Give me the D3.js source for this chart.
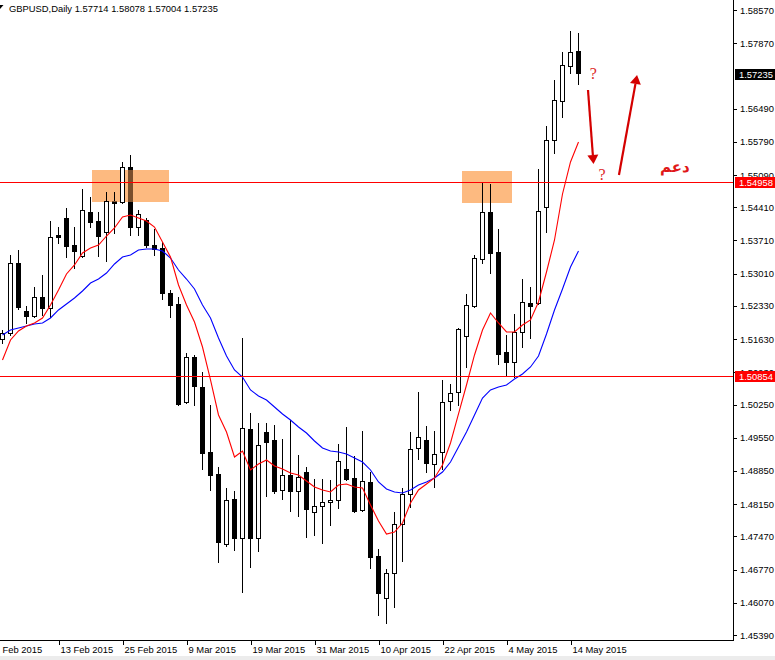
<!DOCTYPE html>
<html><head><meta charset="utf-8">
<script src="https://cdn.jsdelivr.net/npm/d3@7/dist/d3.min.js"></script>
<style>
html,body{margin:0;padding:0;background:#fff;overflow:hidden;}
svg{display:block;}
text{font-family:"Liberation Sans",Arial,sans-serif;}
</style></head><body>
<svg id="c" width="775" height="660"></svg>
<script>
// ---------------- data ----------------
const dates = ["2015-02-04","2015-02-05","2015-02-06","2015-02-09","2015-02-10","2015-02-11","2015-02-12","2015-02-13","2015-02-16","2015-02-17",
"2015-02-18","2015-02-19","2015-02-20","2015-02-23","2015-02-24","2015-02-25","2015-02-26","2015-02-27","2015-03-02","2015-03-03",
"2015-03-04","2015-03-05","2015-03-06","2015-03-09","2015-03-10","2015-03-11","2015-03-12","2015-03-13","2015-03-16","2015-03-17",
"2015-03-18","2015-03-19","2015-03-20","2015-03-23","2015-03-24","2015-03-25","2015-03-26","2015-03-27","2015-03-30","2015-03-31",
"2015-04-01","2015-04-02","2015-04-03","2015-04-06","2015-04-07","2015-04-08","2015-04-09","2015-04-10","2015-04-13","2015-04-14",
"2015-04-15","2015-04-16","2015-04-17","2015-04-20","2015-04-21","2015-04-22","2015-04-23","2015-04-24","2015-04-27","2015-04-28",
"2015-04-29","2015-04-30","2015-05-01","2015-05-04","2015-05-05","2015-05-06","2015-05-07","2015-05-08","2015-05-11","2015-05-12",
"2015-05-13","2015-05-14","2015-05-15"];

const openP = [1.51632,1.51759,1.53235,1.52223,1.52117,1.52518,1.52286,1.53825,1.54184,1.53614,
1.53382,1.54310,1.54121,1.53889,1.54542,1.54521,1.55259,1.53994,1.54142,1.53614,
1.53551,1.52602,1.52370,1.50304,1.51253,1.50620,1.49249,1.48785,1.47309,1.48258,
1.47436,1.49734,1.47436,1.49671,1.49502,1.48448,1.48764,1.48427,1.48827,1.47984,
1.48110,1.48195,1.48237,1.48891,1.48701,1.48026,1.48617,1.47056,1.46170,1.46698,
1.47731,1.48363,1.49334,1.49502,1.48996,1.49249,1.50325,1.50514,1.51695,1.52328,
1.53319,1.54310,1.53467,1.51358,1.51147,1.51780,1.52391,1.52391,1.54416,1.55829,
1.56651,1.57389,1.57714];

const highP = [1.51822,1.53404,1.53509,1.52328,1.52729,1.52982,1.54121,1.53994,1.54395,1.53994,
1.54795,1.54627,1.54310,1.54732,1.54732,1.55365,1.55512,1.54352,1.54184,1.53952,
1.53678,1.52665,1.52518,1.51337,1.51295,1.50936,1.50240,1.48933,1.48490,1.48427,
1.51653,1.50072,1.49861,1.49861,1.49819,1.49523,1.49924,1.49186,1.48933,1.48680,
1.48680,1.48659,1.49418,1.49776,1.49165,1.49692,1.48827,1.47204,1.46782,1.47984,
1.48490,1.49671,1.50514,1.49797,1.49692,1.50768,1.50683,1.51864,1.52581,1.53404,
1.54943,1.54901,1.53952,1.51716,1.52159,1.52897,1.52729,1.55217,1.56124,1.57094,
1.57684,1.58127,1.58078];

const lowP = [1.51548,1.51716,1.52265,1.51970,1.52096,1.52138,1.52096,1.53657,1.53361,1.53129,
1.53361,1.53994,1.53382,1.53277,1.53867,1.54500,1.53825,1.53825,1.53572,1.53404,
1.52476,1.52096,1.50240,1.50282,1.50240,1.48891,1.48448,1.46929,1.47267,1.47183,
1.46297,1.46824,1.47161,1.48321,1.48385,1.48258,1.48005,1.47900,1.47457,1.47499,
1.47330,1.47710,1.48068,1.48659,1.47984,1.48005,1.46803,1.45812,1.45643,1.45980,
1.46951,1.48089,1.49102,1.48827,1.48511,1.48891,1.50135,1.50240,1.51042,1.52307,
1.53235,1.53024,1.51105,1.50873,1.50831,1.51463,1.51653,1.52370,1.53889,1.55554,
1.56314,1.57242,1.57004];

const closeP = [1.51759,1.53235,1.52307,1.52117,1.52518,1.52286,1.53783,1.53783,1.53593,1.53488,
1.54352,1.54100,1.53804,1.54542,1.54500,1.55259,1.53994,1.54268,1.53614,1.53530,
1.52602,1.52349,1.50261,1.51253,1.50641,1.49228,1.48764,1.47351,1.48237,1.47436,
1.49755,1.47436,1.49397,1.49460,1.48427,1.48764,1.48427,1.48722,1.48047,1.48110,
1.48195,1.48237,1.49059,1.48680,1.48005,1.48638,1.47035,1.46276,1.46698,1.47731,
1.48363,1.49312,1.49565,1.49017,1.49207,1.50304,1.50493,1.51843,1.52349,1.53340,
1.54310,1.53446,1.51316,1.51147,1.51780,1.52412,1.52328,1.54331,1.55829,1.56672,
1.57410,1.57684,1.57235];

// moving averages (red = fast, blue = slow)
const maFast = [1.51189,1.51611,1.51801,1.51906,1.51970,1.52075,1.52349,1.52665,1.53003,1.53193,
1.53446,1.53551,1.53614,1.53804,1.53973,1.54205,1.54247,1.54184,1.54121,1.53994,
1.53678,1.53361,1.52771,1.52349,1.51991,1.51463,1.50768,1.50030,1.49671,1.49144,
1.49270,1.48870,1.48996,1.49081,1.48954,1.48891,1.48806,1.48764,1.48638,1.48511,
1.48448,1.48406,1.48553,1.48574,1.48511,1.48490,1.48132,1.47794,1.47520,1.47562,
1.47752,1.48174,1.48448,1.48574,1.48701,1.48975,1.49439,1.50051,1.50662,1.51295,
1.51822,1.52181,1.51970,1.51780,1.51780,1.51927,1.52033,1.52412,1.53045,1.53720,
1.54690,1.55365,1.55787];

const maSlow = [1.51716,1.51822,1.51864,1.51906,1.51948,1.51970,1.52075,1.52244,1.52370,1.52497,
1.52644,1.52813,1.52897,1.53024,1.53214,1.53361,1.53404,1.53509,1.53530,1.53530,
1.53488,1.53340,1.53087,1.52897,1.52687,1.52349,1.52075,1.51653,1.51274,1.50978,
1.50831,1.50557,1.50430,1.50346,1.50198,1.50051,1.49924,1.49776,1.49650,1.49481,
1.49334,1.49270,1.49249,1.49207,1.49123,1.49038,1.48870,1.48617,1.48469,1.48406,
1.48385,1.48448,1.48553,1.48617,1.48701,1.48827,1.49038,1.49355,1.49671,1.50030,
1.50388,1.50557,1.50620,1.50662,1.50789,1.50894,1.51042,1.51274,1.51738,1.52244,
1.52687,1.53151,1.53488];

const priceTicks = [1.58570,1.57870,1.56490,1.55790,1.55090,1.54410,1.53710,1.53010,1.52330,1.51630,
1.50930,1.50250,1.49550,1.48850,1.48150,1.47470,1.46770,1.46070,1.45390];

const dateTickIdx = [-1,7,15,23,31,39,47,55,63,71];
const dateTickLabels = ["Feb 2015","13 Feb 2015","25 Feb 2015","9 Mar 2015","19 Mar 2015","31 Mar 2015","10 Apr 2015","22 Apr 2015","4 May 2015","14 May 2015"];

const levelPrices = [1.54958, 1.50854];
const lastPrice = 1.57235;
const titleText = "GBPUSD,Daily  1.57714 1.58078 1.57004 1.57235";

// resistance zones (bar index span, price span)
const zoneStart = [11.25, 57.5];
const zoneEnd   = [20.85, 63.75];
const zoneHigh  = [1.55196, 1.55175];
const zoneLow   = [1.54521, 1.54510];

// hand-drawn arrows (bar index / price anchors)
const arrowFromIdx = [73.25, 77.12];
const arrowFromP   = [1.56883, 1.55091];
const arrowToIdx   = [73.94, 79.38];
const arrowToP     = [1.55323, 1.57199];

const noteText = ["?", "?", "دعم"];
const noteIdx  = [73.9, 75.0, 84.1];
const noteP    = [1.57115, 1.54985, 1.55154];

// ---------------- drawing ----------------
const W = 775, H = 660, plotR = 733, plotB = 640;
const svg = d3.select("#c");
const x = d3.scaleLinear().domain([0, 72]).range([2, 578]);
const y = d3.scaleLinear().domain([1.45390, 1.58570]).range([635, 10]);

svg.append("rect").attr("x",0).attr("y",0).attr("width",W).attr("height",H).attr("fill","#fff");
svg.append("rect").attr("x",0).attr("y",656).attr("width",W).attr("height",4).attr("fill","#ececec");

const clip = svg.append("clipPath").attr("id","pc");
clip.append("rect").attr("x",0).attr("y",0).attr("width",plotR).attr("height",plotB);
const plot = svg.append("g").attr("clip-path","url(#pc)");

// zones
const zones = zoneStart.map((s,k)=>({
  x0: Math.round(x(s)), x1: Math.round(x(zoneEnd[k])),
  y0: Math.round(y(zoneHigh[k])), y1: Math.round(y(zoneLow[k]))
}));
zones.forEach(z=>{
  plot.append("rect").attr("x",z.x0).attr("y",z.y0).attr("width",z.x1-z.x0).attr("height",z.y1-z.y0)
    .attr("fill","#fdba80");
});

// candles
const bars = d3.range(dates.length).map(i=>({i,o:openP[i],h:highP[i],l:lowP[i],c:closeP[i]}));
const cg = plot.append("g").attr("shape-rendering","crispEdges");
bars.forEach(b=>{
  const cx = Math.round(x(b.i));
  const yh = Math.round(y(b.h)), yl = Math.round(y(b.l));
  const yo = Math.round(y(b.o)), yc = Math.round(y(b.c));
  cg.append("line").attr("x1",cx+0.5).attr("x2",cx+0.5).attr("y1",yh).attr("y2",yl+1)
    .attr("stroke","#000").attr("stroke-width",1);
  const top = Math.min(yo,yc), bot = Math.max(yo,yc);
  const bull = b.c >= b.o;
  if (bot - top < 1) {
    cg.append("line").attr("x1",cx-2).attr("x2",cx+3).attr("y1",top+0.5).attr("y2",top+0.5)
      .attr("stroke","#000");
  } else {
    cg.append("rect").attr("x",cx-1.5).attr("y",top+0.5).attr("width",4).attr("height",bot-top)
      .attr("fill", bull ? "#fff" : "#000").attr("stroke","#000").attr("stroke-width",1);
    if (!bull) {
      zones.forEach(z=>{
        const ox0 = Math.max(cx-2, z.x0), ox1 = Math.min(cx+3, z.x1);
        const oy0 = Math.max(top, z.y0), oy1 = Math.min(bot+1, z.y1);
        if (ox1 > ox0 && oy1 > oy0) {
          cg.append("rect").attr("x",ox0).attr("y",oy0).attr("width",ox1-ox0).attr("height",oy1-oy0)
            .attr("fill","#7a4f2c");
        }
      });
    }
  }
});

// moving averages
const lineGen = arr => d3.line().x((d,i)=>x(i)+0.5).y(d=>y(d))(arr);
plot.append("path").attr("d", lineGen(maSlow)).attr("fill","none").attr("stroke","#0000ff").attr("stroke-width",1.1);
plot.append("path").attr("d", lineGen(maFast)).attr("fill","none").attr("stroke","#ff0000").attr("stroke-width",1.1);

// level lines
levelPrices.forEach(p=>{
  const yy = Math.round(y(p) + 0.6) + 0.5;
  plot.append("rect").attr("x",0).attr("y",yy-0.5).attr("width",plotR).attr("height",1)
    .attr("fill","#ff0000").attr("shape-rendering","crispEdges");
});

// arrows
arrowFromIdx.forEach((fi,k)=>{
  const x1 = x(fi), y1 = y(arrowFromP[k]), x2 = x(arrowToIdx[k]), y2 = y(arrowToP[k]);
  const ang = Math.atan2(y2-y1, x2-x1);
  const hl = 9, hw = 5.5;
  const bx = x2 - hl*Math.cos(ang), by = y2 - hl*Math.sin(ang);
  plot.append("line").attr("x1",x1).attr("y1",y1).attr("x2",bx).attr("y2",by)
    .attr("stroke","#d40000").attr("stroke-width",2.2);
  const px = -Math.sin(ang), py = Math.cos(ang);
  plot.append("path").attr("d",`M${x2},${y2}L${bx+hw*px},${by+hw*py}L${bx-hw*px},${by-hw*py}Z`)
    .attr("fill","#d40000");
});

// notes
noteText.forEach((t,k)=>{
  const isQ = t === "?";
  plot.append("text").attr("x", x(noteIdx[k])).attr("y", y(noteP[k]))
    .attr("text-anchor","middle")
    .attr("fill", isQ ? "#dd2a2a" : "#e01818")
    .style("font-family", isQ ? "'Liberation Serif','DejaVu Serif',serif" : "'DejaVu Sans',sans-serif")
    .style("font-weight", isQ ? "normal" : "bold")
    .style("font-size", isQ ? "16px" : "15px")
    .text(t);
});

// borders
svg.append("line").attr("x1",plotR+0.5).attr("x2",plotR+0.5).attr("y1",0).attr("y2",plotB+1)
  .attr("stroke","#000").attr("shape-rendering","crispEdges");
svg.append("line").attr("x1",0).attr("x2",plotR+1).attr("y1",plotB+0.5).attr("y2",plotB+0.5)
  .attr("stroke","#000").attr("shape-rendering","crispEdges");

// right price axis
const yAxis = d3.axisRight(y).tickValues(priceTicks).tickFormat(d3.format(".5f")).tickSize(3).tickPadding(3);
const ya = svg.append("g").attr("transform",`translate(${plotR+1},0)`).call(yAxis);
ya.select(".domain").remove();
ya.selectAll(".tick line").attr("stroke","#000").attr("shape-rendering","crispEdges");
ya.selectAll(".tick text").attr("fill","#000").style("font-size","9.4px").style("font-family","'Liberation Sans',Arial,sans-serif");

// bottom date axis
const xAxis = d3.axisBottom(x).tickValues(dateTickIdx).tickFormat((d,i)=>dateTickLabels[i]).tickSize(4);
const xa = svg.append("g").attr("transform",`translate(0.5,${plotB+1})`).call(xAxis);
xa.select(".domain").remove();
xa.selectAll(".tick line").attr("stroke","#000").attr("shape-rendering","crispEdges");
xa.selectAll(".tick text").attr("text-anchor","start")
  .attr("x",d=> x(d) < 0 ? 1.5 - x(d) : 1.5).attr("y",5).attr("dy","0.71em")
  .attr("fill","#000").style("font-size","9.4px").style("font-family","'Liberation Sans',Arial,sans-serif");

// price marker boxes
function marker(p, bg){
  const yy = Math.round(y(p) + 0.6);
  svg.append("rect").attr("x",plotR+2).attr("y",yy-5).attr("width",W-plotR-2).attr("height",11).attr("fill",bg);
  svg.append("text").attr("x",plotR+6).attr("y",yy+3.5).attr("fill","#fff")
    .style("font-size","9.4px").text(d3.format(".5f")(p));
}
levelPrices.forEach(p=>marker(p,"#ff0000"));
marker(lastPrice,"#000");

// title
svg.append("path").attr("d","M0,5L3.5,5L0,9Z").attr("fill","#000");
svg.append("text").attr("x",9).attr("y",11.5).attr("fill","#000").style("font-size","9.4px").text(titleText);
</script>
</body></html>
